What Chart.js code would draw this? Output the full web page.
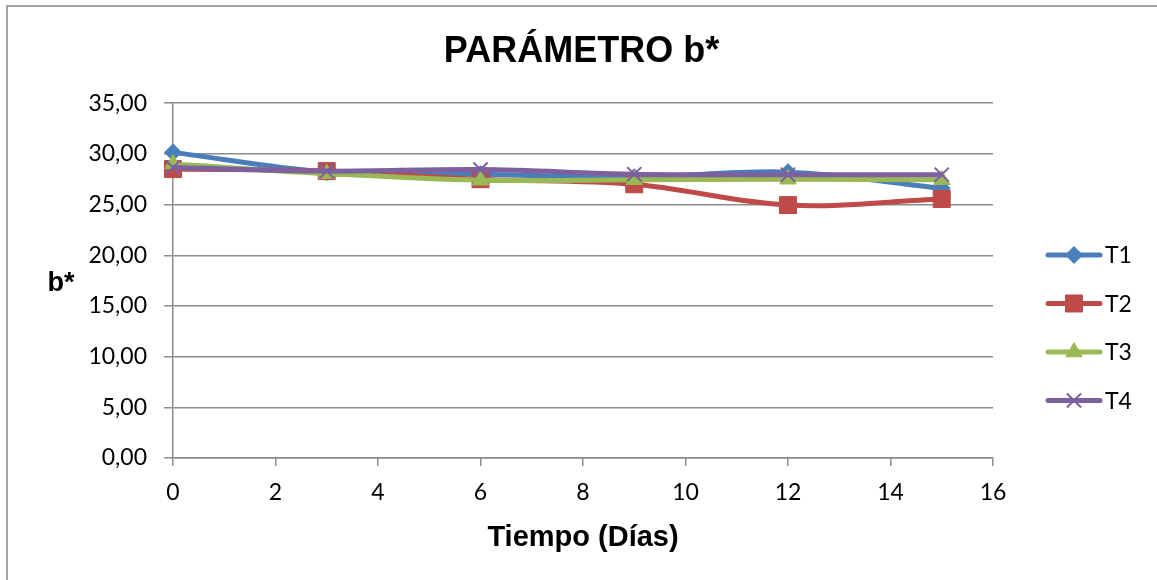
<!DOCTYPE html>
<html>
<head>
<meta charset="utf-8">
<script src="https://cdn.jsdelivr.net/npm/chart.js@4.4.1/dist/chart.umd.min.js"></script>
<style>
  html, body { margin: 0; padding: 0; background: #fff; overflow: hidden; }
  #wrap { position: relative; width: 1157px; height: 580px; overflow: hidden; }
  #frame { position: absolute; left: 6px; top: 5px; width: 1400px; height: 800px;
           border: 2px solid #a3a3a3; box-sizing: border-box; }
  canvas { position: absolute; left: 0; top: 0; }
</style>
</head>
<body>
<div id="wrap">
  <div id="frame"></div>
  <canvas id="chart" width="1157" height="580"></canvas>
</div>
<script>
// Measurement days and b* readings per treatment
const days = [0, 3, 6, 9, 12, 15];
const seriesNames = ['T1', 'T2', 'T3', 'T4'];
const t1Values = [30.15, 28.2, 28.0, 27.7, 28.2, 26.6];
const t2Values = [28.5, 28.3, 27.5, 27.0, 24.95, 25.55];
const t3Values = [29.0, 28.05, 27.4, 27.45, 27.5, 27.45];
const t4Values = [28.65, 28.3, 28.45, 28.0, 27.95, 27.95];
const yTickValues = [0, 5, 10, 15, 20, 25, 30, 35];
const xTickValues = [0, 2, 4, 6, 8, 10, 12, 14, 16];

const chartTitle = 'PARÁMETRO b*';
const xTitle = 'Tiempo (Días)';
const yTitle = 'b*';

const colors = ['#4a7ebb', '#be4b48', '#98b954', '#7d60a0'];
const markerStyles = [
  { pointStyle: 'rectRot', radius: 8.5, borderWidth: 1 },
  { pointStyle: 'rect', radius: 12, borderWidth: 1 },
  { pointStyle: 'triangle', radius: 9.5, borderWidth: 1 },
  { pointStyle: 'crossRot', radius: 10, borderWidth: 2 }
];

const allValues = [t1Values, t2Values, t3Values, t4Values];
const gridColor = '#8c8c8c';

const datasets = seriesNames.map((name, i) => ({
  label: name,
  data: days.map((d, k) => ({ x: d, y: allValues[i][k] })),
  borderColor: colors[i],
  backgroundColor: colors[i],
  pointBackgroundColor: colors[i],
  pointBorderColor: colors[i],
  borderWidth: 5,
  tension: 0.35,
  pointStyle: markerStyles[i].pointStyle,
  pointRadius: markerStyles[i].radius,
  pointHoverRadius: markerStyles[i].radius,
  pointBorderWidth: markerStyles[i].borderWidth,
  clip: false,
  order: seriesNames.length - 1 - i
}));

// Right-hand legend and horizontal y-axis caption
const sideLabels = {
  id: 'sideLabels',
  afterDraw(chart) {
    const ctx = chart.ctx;
    ctx.save();
    // y-axis caption
    ctx.font = 'bold 27px "Liberation Sans", Arial, sans-serif';
    ctx.fillStyle = '#000';
    ctx.textAlign = 'center';
    ctx.textBaseline = 'middle';
    ctx.fillText(yTitle, 61, 284);

    // legend entries
    const top = 255, step = 48.5;
    chart.data.datasets.forEach((ds, i) => {
      const y = top + i * step;
      ctx.strokeStyle = ds.borderColor;
      ctx.lineWidth = 5;
      ctx.lineCap = 'round';
      ctx.beginPath();
      ctx.moveTo(1048, y);
      ctx.lineTo(1100, y);
      ctx.stroke();
      ctx.fillStyle = ds.pointBackgroundColor;
      ctx.strokeStyle = ds.pointBorderColor;
      ctx.lineWidth = ds.pointBorderWidth;
      ctx.lineCap = 'butt';
      Chart.helpers.drawPoint(ctx, {
        pointStyle: ds.pointStyle,
        radius: ds.pointRadius,
        rotation: 0,
        borderWidth: ds.pointBorderWidth
      }, 1074, y);
      ctx.fillStyle = '#000';
      ctx.font = '23px Lato, "Open Sans", sans-serif';
      ctx.textAlign = 'left';
      ctx.textBaseline = 'middle';
      ctx.fillText(ds.label, 1105, y + 1);
    });
    ctx.restore();
  }
};

new Chart(document.getElementById('chart'), {
  type: 'line',
  data: { datasets },
  plugins: [sideLabels],
  options: {
    responsive: false,
    devicePixelRatio: 1,
    animation: false,
    layout: { padding: { left: 6, right: 0, top: 0, bottom: 0 } },
    plugins: {
      legend: { display: false },
      tooltip: { enabled: false },
      title: {
        display: true,
        text: chartTitle,
        color: '#000',
        font: { family: '"Liberation Sans", Arial, sans-serif', size: 36, weight: 'bold' },
        padding: { top: 30, bottom: 30 }
      }
    },
    scales: {
      x: {
        type: 'linear',
        min: 0,
        max: 16,
        afterBuildTicks(scale) { scale.ticks = xTickValues.map(v => ({ value: v })); },
        afterFit(scale) { scale.height = 122; },
        grid: { drawOnChartArea: false, drawTicks: true, tickLength: 8, color: gridColor, lineWidth: 1.5 },
        border: { display: true, color: gridColor, width: 1.5 },
        ticks: {
          color: '#000',
          padding: 13,
          maxRotation: 0,
          font: { family: 'Lato, "Open Sans", sans-serif', size: 23 },
          callback: v => String(v)
        },
        title: {
          display: true,
          text: xTitle,
          color: '#000',
          font: { family: '"Liberation Sans", Arial, sans-serif', size: 29, weight: 'bold' },
          padding: { top: 0, bottom: 25 }
        }
      },
      y: {
        min: 0,
        max: 35,
        afterBuildTicks(scale) { scale.ticks = yTickValues.map(v => ({ value: v })); },
        afterFit(scale) { scale.width = 167; },
        grid: { drawTicks: true, tickLength: 9, color: gridColor, lineWidth: 1.5 },
        border: { display: true, color: gridColor, width: 1.5 },
        ticks: {
          color: '#000',
          padding: 17,
          font: { family: 'Lato, "Open Sans", sans-serif', size: 23 },
          callback: v => v.toFixed(2).replace('.', ',')
        }
      },
      spacer: {
        position: 'right',
        display: true,
        afterFit(scale) { scale.width = 164; },
        grid: { display: false, drawTicks: false },
        border: { display: false },
        ticks: { display: false }
      }
    }
  }
});
</script>
</body>
</html>
